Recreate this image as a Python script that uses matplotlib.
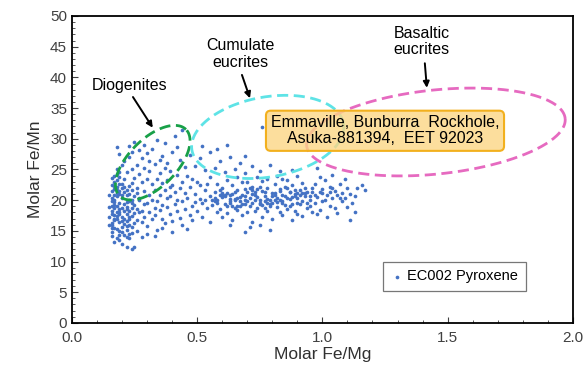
import numpy as np
import matplotlib
matplotlib.use('Agg')
import matplotlib.pyplot as plt
from matplotlib.ticker import MultipleLocator, FormatStrFormatter

plt.rcParams['font.family'] = ['Liberation Sans', 'DejaVu Sans']

# pyroxene analyses (molar Fe/Mg, molar Fe/Mn)
# dense low Fe/Mg column
col_x = [0.16, 0.17, 0.16, 0.18, 0.17, 0.16, 0.18, 0.17, 0.16, 0.18, 0.17, 0.16, 0.18, 0.17, 0.19,
         0.15, 0.15, 0.15, 0.16, 0.19, 0.19, 0.20, 0.19, 0.20, 0.19, 0.20, 0.19, 0.20, 0.19, 0.21,
         0.18, 0.17, 0.19, 0.16, 0.21, 0.22, 0.23, 0.22, 0.24, 0.23, 0.22, 0.24, 0.23, 0.22, 0.24,
         0.23, 0.25, 0.25, 0.25, 0.25, 0.24, 0.23, 0.21, 0.21, 0.21, 0.20, 0.22, 0.24, 0.25, 0.26,
         0.26, 0.26, 0.17, 0.18, 0.16, 0.17, 0.18, 0.17, 0.19, 0.20, 0.22, 0.23, 0.24, 0.22, 0.20,
         0.18, 0.16, 0.15, 0.21, 0.23, 0.24, 0.22, 0.19, 0.26, 0.27, 0.27,
         0.16, 0.17, 0.18, 0.19, 0.17, 0.16, 0.18, 0.20, 0.19, 0.17, 0.16, 0.18, 0.20, 0.21, 0.22,
         0.23, 0.24, 0.22, 0.23, 0.21, 0.17, 0.19, 0.18, 0.16, 0.20, 0.22, 0.24, 0.23, 0.18, 0.17]
col_y = [14.8, 15.5, 16.2, 16.9, 17.6, 18.3, 19.0, 19.7, 20.4, 21.1, 21.8, 22.5, 23.2, 24.0, 24.6,
         17.2, 18.9, 20.8, 15.4, 15.0, 16.4, 17.3, 18.1, 18.8, 19.6, 20.3, 21.0, 21.9, 22.7, 23.4,
         13.9, 13.2, 13.5, 14.1, 14.4, 15.2, 15.9, 16.6, 17.4, 18.2, 18.9, 19.5, 20.1, 20.9, 21.6,
         22.3, 16.3, 17.9, 19.2, 20.6, 14.6, 13.8, 16.1, 19.4, 21.3, 12.9, 12.3, 12.0, 12.4, 14.9,
         18.6, 21.2, 23.0, 25.0, 21.5, 16.8, 18.0, 20.1, 17.7, 15.7, 17.8, 16.9, 18.8, 21.7, 22.6,
         22.1, 19.1, 15.9, 18.3, 19.8, 15.6, 14.0, 14.3, 16.8, 18.1, 20.0,
         16.0, 17.0, 17.4, 18.5, 19.2, 19.9, 20.6, 20.9, 21.5, 22.3, 23.6, 15.3, 16.6, 17.0, 18.5,
         21.0, 20.1, 19.7, 17.3, 22.2, 18.7, 23.8, 21.7, 17.8, 14.8, 15.8, 22.8, 14.5, 24.2, 20.8]

# scatter around the diogenite field
dio_x = [0.18, 0.19, 0.25, 0.34, 0.41, 0.44, 0.21, 0.23, 0.26, 0.28, 0.30, 0.32, 0.36, 0.38, 0.40,
         0.43, 0.45, 0.22, 0.24, 0.27, 0.29, 0.31, 0.33, 0.35, 0.37, 0.39, 0.42, 0.46, 0.25, 0.28,
         0.30, 0.32, 0.34, 0.36, 0.38, 0.40, 0.44, 0.26, 0.29, 0.31, 0.33, 0.35, 0.37, 0.39, 0.41,
         0.27, 0.29, 0.37, 0.23, 0.20, 0.35, 0.42, 0.31, 0.27, 0.30, 0.33, 0.28, 0.36, 0.24]
dio_y = [28.6, 27.5, 29.4, 29.8, 30.5, 31.5, 26.4, 27.0, 25.8, 26.9, 27.6, 28.4, 27.2, 26.1, 27.9,
         26.6, 25.4, 24.6, 25.1, 24.3, 25.2, 24.7, 25.9, 24.5, 25.3, 24.8, 24.1, 23.9, 23.6, 22.9,
         23.4, 22.6, 23.5, 22.8, 23.3, 22.5, 22.9, 21.9, 21.5, 20.8, 21.7, 20.9, 21.6, 20.7, 21.4,
         28.1, 29.0, 29.3, 28.8, 25.7, 26.5, 28.7, 26.3, 20.4, 19.6, 18.8, 18.2, 19.2, 27.9]

# transition towards the main band
mid_x = [0.28, 0.29, 0.30, 0.31, 0.32, 0.33, 0.34, 0.35, 0.36, 0.37, 0.38, 0.39, 0.40, 0.41, 0.42,
         0.43, 0.44, 0.45, 0.46, 0.47, 0.48, 0.49, 0.50, 0.51, 0.52, 0.53, 0.54, 0.55, 0.29, 0.32,
         0.34, 0.38, 0.42, 0.45, 0.47, 0.49, 0.51, 0.53, 0.30, 0.33, 0.36, 0.40, 0.44, 0.48, 0.52,
         0.46, 0.55, 0.50, 0.43, 0.39, 0.54, 0.28]
mid_y = [16.5, 17.3, 15.8, 18.1, 16.9, 17.6, 15.2, 18.4, 17.0, 16.2, 18.9, 17.8, 16.6, 19.3, 18.2,
         17.1, 19.8, 18.6, 20.4, 17.5, 19.1, 21.0, 18.3, 20.2, 19.5, 21.6, 18.8, 20.7, 19.4, 20.1,
         19.9, 20.3, 20.0, 21.2, 22.1, 19.7, 22.4, 20.0, 14.5, 14.1, 15.4, 14.8, 16.0, 16.7, 17.2,
         15.3, 16.4, 23.0, 21.9, 22.2, 22.6, 14.0]

# main band
band_x = [0.56, 0.57, 0.58, 0.59, 0.60, 0.60, 0.61, 0.62, 0.62, 0.63, 0.64, 0.64, 0.65, 0.66, 0.66,
          0.67, 0.68, 0.68, 0.69, 0.70, 0.70, 0.71, 0.72, 0.72, 0.73, 0.74, 0.74, 0.75, 0.76, 0.76,
          0.77, 0.78, 0.78, 0.79, 0.80, 0.80, 0.81, 0.82, 0.82, 0.83, 0.84, 0.84, 0.85, 0.86, 0.86,
          0.87, 0.88, 0.88, 0.89, 0.90, 0.90, 0.91, 0.92, 0.92, 0.93, 0.94, 0.94, 0.95,
          0.57, 0.59, 0.61, 0.63, 0.65, 0.67, 0.69, 0.71, 0.73, 0.75, 0.77, 0.79, 0.81, 0.83, 0.85,
          0.87, 0.89, 0.91, 0.93, 0.58, 0.62, 0.66, 0.70, 0.74, 0.78, 0.82, 0.86, 0.90, 0.60, 0.64,
          0.68, 0.72, 0.76, 0.80, 0.84, 0.88, 0.92, 0.63, 0.71, 0.79, 0.69, 0.75, 0.58, 0.65, 0.73,
          0.77, 0.83, 0.89, 0.95]
band_y = [19.2, 21.3, 20.1, 18.6, 22.0, 20.5, 19.4, 21.1, 17.9, 20.8, 19.0, 22.5, 20.2, 21.6, 18.4,
          19.8, 20.9, 22.9, 19.3, 21.4, 18.0, 20.4, 19.6, 22.2, 20.9, 18.7, 21.8, 20.1, 19.2, 23.1,
          20.7, 21.9, 18.3, 20.0, 21.2, 19.5, 22.6, 20.4, 18.9, 21.5, 19.8, 23.4, 20.6, 21.9, 18.5,
          20.2, 22.4, 19.4, 21.0, 20.3, 17.8, 21.7, 19.9, 22.8, 20.7, 18.8, 21.3, 20.0,
          20.4, 21.7, 20.9, 19.6, 21.3, 20.5, 21.8, 19.0, 21.4, 19.6, 21.3, 19.1, 20.8, 20.0, 22.2,
          19.0, 20.6, 19.3, 21.9, 22.7, 23.3, 23.7, 23.0, 23.8, 23.5, 24.0, 23.2, 23.9, 17.2, 16.8,
          17.5, 16.5, 17.3, 16.9, 17.6, 16.7, 17.4, 15.9, 15.6, 15.1, 14.8, 16.0, 18.1, 18.8, 18.2,
          18.8, 18.1, 18.3, 19.1]

# densest part of the band
core_x = [0.56, 0.58, 0.60, 0.61, 0.63, 0.64, 0.66, 0.67, 0.69, 0.70, 0.72, 0.73, 0.75, 0.76, 0.78,
          0.79, 0.81, 0.82, 0.84, 0.85, 0.87, 0.88, 0.90, 0.91, 0.93, 0.95, 0.97, 0.99, 1.01, 1.04,
          0.57, 0.59, 0.62, 0.65, 0.68, 0.71, 0.74, 0.77, 0.80, 0.83, 0.86, 0.89, 0.92, 0.96, 1.00,
          1.03, 1.07, 0.60, 0.63, 0.66, 0.69, 0.72, 0.75, 0.78, 0.81, 0.84, 0.87, 0.90, 0.94]
core_y = [20.0, 19.5, 21.2, 20.7, 19.9, 21.0, 20.3, 19.1, 20.6, 19.9, 21.0, 20.1, 19.3, 21.5, 20.2,
          19.4, 21.1, 19.7, 20.9, 19.2, 21.3, 20.5, 19.6, 20.8, 21.2, 20.6, 20.9, 21.3, 20.1, 21.9,
          19.9, 20.8, 19.1, 20.0, 19.4, 21.9, 20.5, 19.9, 20.6, 21.8, 20.3, 21.6, 21.1, 22.0, 21.1,
          21.4, 20.4, 20.9, 20.2, 19.0, 20.0, 21.7, 22.1, 19.6, 20.1, 19.5, 21.4, 21.2, 19.6]

# high Fe/Mg tail
tail_x = [0.96, 0.97, 0.97, 0.98, 0.99, 1.00, 1.00, 1.01, 1.02, 1.03, 1.03, 1.04, 1.05, 1.05, 1.06,
          1.07, 1.08, 1.08, 1.09, 1.10, 1.10, 1.11, 1.12, 1.13, 1.14, 1.16, 1.17, 0.98, 1.02, 1.06,
          1.11, 0.99, 1.04, 1.09, 0.96, 1.13]
tail_y = [21.4, 19.6, 22.7, 20.5, 18.4, 21.8, 19.9, 23.3, 20.8, 19.1, 22.1, 20.3, 21.5, 18.7, 20.9,
          22.6, 19.8, 21.2, 20.4, 22.0, 18.9, 21.0, 19.5, 20.6, 21.9, 22.4, 21.6, 17.7, 17.2, 17.9,
          16.8, 23.7, 24.1, 23.5, 18.0, 18.1]

# sparse points above the band
up_x = [0.47, 0.49, 0.51, 0.53, 0.55, 0.57, 0.59, 0.61, 0.63, 0.65, 0.67, 0.69, 0.72, 0.75, 0.79,
        0.83, 0.76, 0.55, 0.48, 0.52, 0.58, 0.62, 0.69, 0.88, 0.98]
up_y = [27.3, 25.6, 26.8, 24.9, 27.9, 25.3, 26.4, 24.6, 27.1, 25.0, 26.0, 24.4, 25.5, 24.8, 25.7,
        24.7, 31.9, 23.8, 23.5, 28.9, 28.3, 29.0, 27.2, 24.9, 25.3]

fe_mg = col_x + dio_x + mid_x + band_x + core_x + tail_x + up_x
fe_mn = col_y + dio_y + mid_y + band_y + core_y + tail_y + up_y

fig = plt.figure(figsize=(5.84, 3.72), dpi=100)
ax = fig.add_axes([0.123, 0.132, 0.858, 0.825])

# screen pixels per data unit, used to draw the field outlines as true ellipses
SX = 0.858 * 584 / 2.0
SY = 0.825 * 372 / 50.0


def field(cx, cy, a, b, ang, color):
    t = np.linspace(0, 2 * np.pi, 300)
    r = np.deg2rad(ang)
    u = a * np.cos(t)
    v = b * np.sin(t)
    ex = cx + (u * np.cos(r) - v * np.sin(r)) / SX
    ey = cy + (u * np.sin(r) + v * np.cos(r)) / SY
    ax.plot(ex, ey, color=color, lw=2.0, dashes=(4, 2), zorder=3)


ax.scatter(fe_mg, fe_mn, s=7, color='#4472C4', lw=0, zorder=2, label='EC002 Pyroxene')

field(0.323, 26.1, 47, 24, 45, '#18A048')
field(0.782, 30.3, 77, 40, 10, '#5EE3E6')
field(1.453, 31.1, 130, 42, 6, '#E66AC0')

ax.text(1.25, 31.3, 'Emmaville, Bunburra  Rockhole,\nAsuka-881394,  EET 92023',
        ha='center', va='center', fontsize=11.5, linespacing=1.05, zorder=4,
        bbox=dict(boxstyle='round,pad=0.3,rounding_size=0.3', fc=(0.99, 0.84, 0.52, 0.8),
                  ec='#F2B01E', lw=1.5))

arrow = dict(arrowstyle='-|>', color='black', lw=1.4, mutation_scale=9, shrinkA=0, shrinkB=0)
ax.annotate('', xy=(0.323, 31.8), xytext=(0.244, 36.8), arrowprops=arrow, zorder=5)
ax.annotate('', xy=(0.711, 36.6), xytext=(0.679, 40.4), arrowprops=arrow, zorder=5)
ax.annotate('', xy=(1.417, 38.3), xytext=(1.409, 42.3), arrowprops=arrow, zorder=5)
ax.text(0.232, 38.6, 'Diogenites', ha='center', va='center', fontsize=11.5)
ax.text(0.671, 43.8, 'Cumulate\neucrites', ha='center', va='center', fontsize=11.5, linespacing=1.1)
ax.text(1.397, 45.8, 'Basaltic\neucrites', ha='center', va='center', fontsize=11.5, linespacing=1.1)

ax.set_xlim(0, 2.0)
ax.set_ylim(0, 50)
ax.xaxis.set_major_locator(MultipleLocator(0.5))
ax.xaxis.set_minor_locator(MultipleLocator(0.1))
ax.yaxis.set_major_locator(MultipleLocator(5))
ax.yaxis.set_minor_locator(MultipleLocator(1))
ax.xaxis.set_major_formatter(FormatStrFormatter('%.1f'))
ax.tick_params(which='both', direction='in', colors='#404040', labelsize=11)
ax.tick_params(which='major', length=4, width=0.8)
ax.tick_params(which='minor', length=2.5, width=0.6)
ax.tick_params(axis='x', pad=6)
for sp in ax.spines.values():
    sp.set_linewidth(1.3)
    sp.set_color('black')

ax.set_xlabel('Molar Fe/Mg', fontsize=12.5, color='#303030', labelpad=1)
ax.set_ylabel('Molar Fe/Mn', fontsize=12.5, color='#303030', labelpad=5)

leg = ax.legend(loc='lower right', bbox_to_anchor=(0.92, 0.081), fontsize=10.5, frameon=True,
                fancybox=False, handletextpad=0.2, borderpad=0.5, markerscale=1.0,
                handlelength=1.0)
leg.get_frame().set_edgecolor('#555555')
leg.get_frame().set_linewidth(0.9)

fig.savefig('out.png', dpi=100)
